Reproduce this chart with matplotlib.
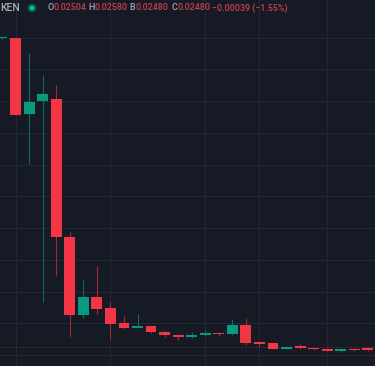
import matplotlib.pyplot as plt
from matplotlib.patches import Rectangle, Ellipse

# candle data (price units)
opens = [0.997, 0.9975, 0.7591, 0.8010, 0.8063, 0.3707, 0.1250, 0.1817, 0.1471, 0.1002,
         0.0863, 0.0913, 0.0740, 0.0630, 0.0567, 0.0624, 0.0693, 0.0671, 0.0939, 0.0397,
         0.0369, 0.0198, 0.0268, 0.0236, 0.0192, 0.0126, 0.0189, 0.0211]
closes = [0.999, 0.7553, 0.7978, 0.8211, 0.3717, 0.1250, 0.1820, 0.1449, 0.0986, 0.0860,
          0.0913, 0.0715, 0.0624, 0.0557, 0.0639, 0.0699, 0.0652, 0.0939, 0.0378, 0.0346,
          0.0189, 0.0243, 0.0230, 0.0183, 0.0135, 0.0183, 0.0157, 0.0157]
highs = [1.001, 0.998, 0.9502, 0.8819, 0.8504, 0.3883, 0.2353, 0.2803, 0.1679, 0.1244,
         0.1291, 0.0929, 0.0756, 0.0646, 0.0718, 0.0778, 0.0715, 0.1140, 0.1165, 0.0447,
         0.0419, 0.0252, 0.0331, 0.0243, 0.0205, 0.0198, 0.0236, 0.0261]
lows = [0.995, 0.755, 0.6006, 0.1660, 0.2488, 0.0557, 0.1181, 0.1291, 0.0504, 0.0819,
        0.0857, 0.0693, 0.0576, 0.0472, 0.0551, 0.0614, 0.0608, 0.0630, 0.0328, 0.0243,
        0.0180, 0.0189, 0.0198, 0.0173, 0.0126, 0.0094, 0.0117, 0.0126]
last_price = 0.0252
time_grid = [1, 8, 15, 19, 24]
price_grid = [i / 10 for i in range(11)]

BG = "#161a25"
UP = "#089981"
DOWN = "#f23645"
UP_WICK = "#0c6b5c"
DOWN_WICK = "#9a2b37"
GRID = "#232733"

W, H = 375, 366
fig = plt.figure(figsize=(W / 100, H / 100), dpi=100, facecolor=BG)
ax = fig.add_axes([0, 0, 1, 1], facecolor=BG)

px = 13.55  # pixels per candle
ax.set_xlim(-2 / px, (W - 2) / px)
ax.set_ylim(-11 / 317.5, 355 / 317.5)

for g in price_grid:
    ax.axhline(g, color=GRID, lw=0.8, zorder=0)
for g in time_grid:
    ax.axvline(g, color=GRID, lw=0.8, zorder=0)

ax.axhline(last_price, color="#6b2a34", lw=0.8, ls=(0, (1, 1.5)), zorder=1)

bw = 0.8
for i, (o, c, h, l) in enumerate(zip(opens, closes, highs, lows)):
    up = c >= o
    ax.vlines(i, l, h, color=UP_WICK if up else DOWN_WICK, lw=0.8, zorder=2)
    bottom = min(o, c)
    height = max(abs(c - o), 0.004)
    ax.add_patch(Rectangle((i - bw / 2, bottom), bw, height,
                           facecolor=UP if up else DOWN, edgecolor="none", zorder=3))

ax.set_xticks([])
ax.set_yticks([])
for s in ax.spines.values():
    s.set_visible(False)

# legend line at the top
ty = 1 - 8 / H
grey = "#a9acb5"
red = "#c8404b"
fam = ["Roboto", "DejaVu Sans"]
fig.text(0 / W, ty, "KEN", color=grey, fontsize=7.6, family=fam, weight="medium", va="center")
fig.patches.append(Ellipse((32 / W, ty), 10 / W, 10 / H, transform=fig.transFigure,
                           facecolor="#0f3d37", edgecolor="none"))
fig.patches.append(Ellipse((32 / W, ty), 5.5 / W, 5.5 / H, transform=fig.transFigure,
                           facecolor="#12b08f", edgecolor="none"))
parts = [(47.5, "O", grey), (54, "0.02504", red), (88, "H", grey), (94.5, "0.02580", red),
         (129, "B", grey), (135, "0.02480", red), (171, "C", grey), (177.5, "0.02480", red),
         (212, "\u22120.00039 (\u22121.55%)", red)]
for x, s, col in parts:
    fig.text(x / W, ty, s, color=col, family=fam, fontsize=6.4, weight="medium", va="center")

fig.savefig("out.png", dpi=100, facecolor=BG)
